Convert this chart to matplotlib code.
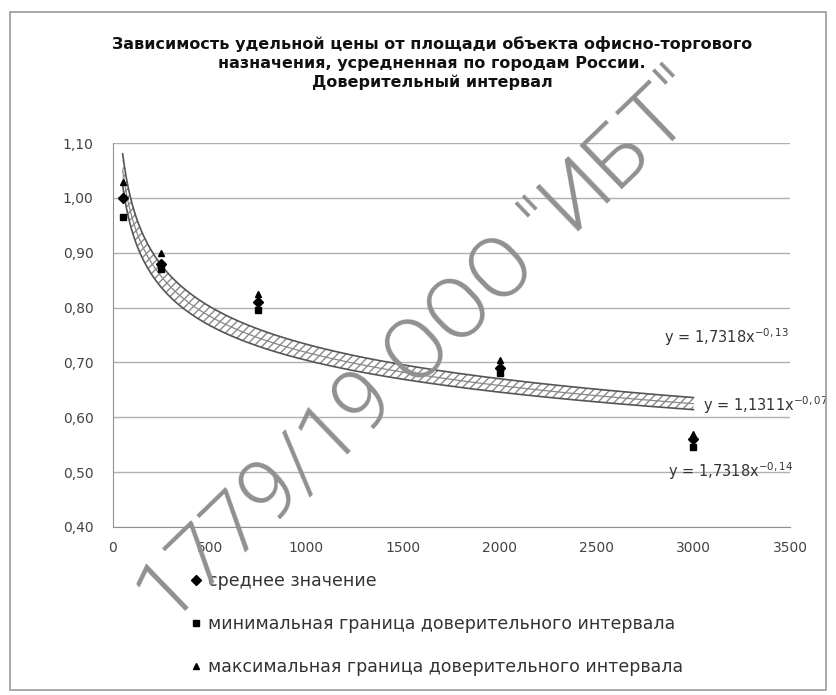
import numpy as np
import matplotlib.pyplot as plt
from matplotlib.patches import Rectangle

# ─── DATA ───────────────────────────────────────────────────────────────────
area = np.array([50, 250, 750, 2000, 3000])
mean_val = np.array([1.00, 0.88, 0.81, 0.69, 0.56])
min_val = np.array([0.965, 0.87, 0.795, 0.68, 0.545])
max_val = np.array([1.03, 0.90, 0.825, 0.705, 0.57])

series_labels = ['среднее значение',
                 'минимальная граница доверительного интервала',
                 'максимальная граница доверительного интервала']
eq_labels = ['y = 1,7318x$^{-0,13}$',
             'y = 1,1311x$^{-0,07}$',
             'y = 1,7318x$^{-0,14}$']
title = ('Зависимость удельной цены от площади объекта офисно-торгового\n'
         'назначения, усредненная по городам России.\n'
         'Доверительный интервал')
yticks = np.arange(0.40, 1.101, 0.10)
xticks = np.arange(0, 3501, 500)


def power_fit(x, y, xs):
    # power trendline like Excel: ln y = ln a + b ln x
    b, ln_a = np.polyfit(np.log(x), np.log(y), 1)
    return np.exp(ln_a) * xs ** b


xs = np.linspace(area.min(), area.max(), 300)
tr_mean = power_fit(area, mean_val, xs)
tr_min = power_fit(area, min_val, xs)
tr_max = power_fit(area, max_val, xs)

# ─── FIGURE ─────────────────────────────────────────────────────────────────
fig = plt.figure(figsize=(8.37, 6.95), dpi=100)
fig.patches.append(Rectangle((0.012, 0.007), 0.975, 0.976, transform=fig.transFigure,
                             fill=False, edgecolor='#9a9a9a', linewidth=1.2))
ax = fig.add_axes([0.135, 0.242, 0.809, 0.552])

ax.set_xlim(0, 3500)
ax.set_ylim(0.40, 1.10)
ax.set_yticks(yticks)
ax.set_yticklabels([f'{v:.2f}'.replace('.', ',') for v in yticks], fontsize=10)
ax.set_xticks(xticks)
ax.set_xticklabels([str(v) for v in xticks], fontsize=10)
ax.grid(True, axis='y', color='#b0b0b0', linewidth=1)
ax.set_axisbelow(True)
for s in ['top', 'right']:
    ax.spines[s].set_visible(False)
ax.spines['left'].set_color('#909090')
ax.spines['bottom'].set_color('#909090')
ax.tick_params(length=0, colors='#444444')
ax.tick_params(axis='y', pad=14)
ax.tick_params(axis='x', pad=10)

# confidence band (hatched) and trend lines
ax.fill_between(xs, tr_min, tr_max, facecolor='white', edgecolor='#8a8a8a',
                hatch='////', linewidth=0)
ax.plot(xs, tr_max, color='#555555', lw=1.2)
ax.plot(xs, tr_mean, color='#888888', lw=0.9)
ax.plot(xs, tr_min, color='#555555', lw=1.2)

ax.plot(area, mean_val, 'D', color='black', ms=5, label=series_labels[0], zorder=5)
ax.plot(area, min_val, 's', color='black', ms=5, label=series_labels[1], zorder=5)
ax.plot(area, max_val, '^', color='black', ms=5, label=series_labels[2], zorder=5)

# trendline equations
ax.text(2850, 0.735, eq_labels[0], fontsize=10.5, color='#333333', clip_on=False)
ax.text(3050, 0.612, eq_labels[1], fontsize=10.5, color='#333333', clip_on=False)
ax.text(2870, 0.49, eq_labels[2], fontsize=10.5, color='#333333', clip_on=False)

fig.text(0.516, 0.948, title, ha='center', va='top', fontsize=11.5,
         fontweight='bold', linespacing=1.32, color='#111111')

ax.legend(loc='upper left', bbox_to_anchor=(0.1, -0.1), frameon=False,
          fontsize=12.5, labelspacing=1.45, handletextpad=0.2, handlelength=1.0,
          borderaxespad=0, labelcolor='#333333')

# watermark
fig.text(0.506, 0.498, '1779/19 ООО "ИБТ"', rotation=44, ha='center', va='center',
         fontsize=62, family=['Roboto', 'Liberation Sans'], fontweight=300,
         color='#909090', zorder=10)

plt.savefig('out.png', dpi=100)
